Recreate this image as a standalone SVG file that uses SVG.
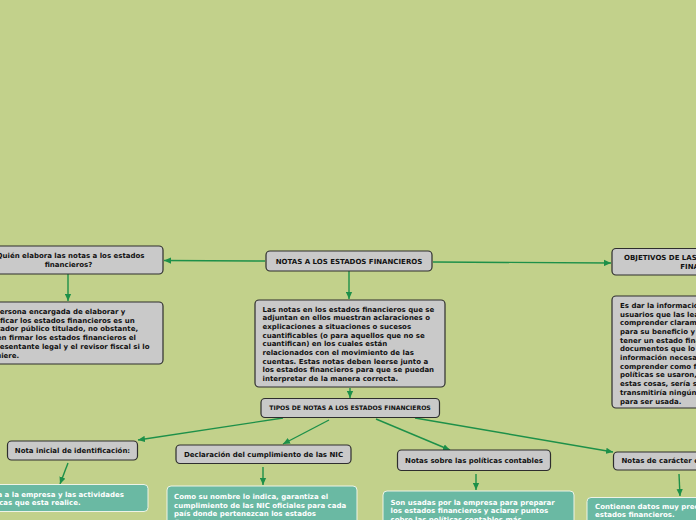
<svg xmlns="http://www.w3.org/2000/svg" width="696" height="520" viewBox="0 0 696 520">
<defs>
<marker id="ah" viewBox="0 0 10 10" refX="10" refY="5" markerWidth="7" markerHeight="7" markerUnits="userSpaceOnUse" orient="auto">
<path d="M0,0.5 L10,5 L0,9.5 z" fill="#1d9049"/>
</marker>
<style>
.g{fill:#c9c9c9;stroke:#2e2e2e;stroke-width:1.2}
.t{fill:#6ab9a3;stroke:#eef3e6;stroke-width:1}
.tx{font-family:"DejaVu Sans",Verdana,sans-serif;font-weight:bold;font-size:7px;fill:#111}
.w{font-family:"DejaVu Sans",Verdana,sans-serif;font-weight:bold;font-size:7px;fill:#ffffff}
.c{text-anchor:middle}
.ln{fill:none;stroke:#1d9049;stroke-width:1.4;marker-end:url(#ah)}
</style>
</defs>
<rect width="696" height="520" fill="#c2d18b"/>
<g id="connectors">
<path class="ln" d="M265,261 L164,260.5"/>
<path class="ln" d="M433,262 L611,263"/>
<path class="ln" d="M349,271 L349,299"/>
<path class="ln" d="M68,274 L68,301"/>
<path class="ln" d="M350,388 L350,398"/>
<path class="ln" d="M283,418 L138,440"/>
<path class="ln" d="M329,420 L283,444"/>
<path class="ln" d="M376,419 L450,450"/>
<path class="ln" d="M415,418 L613,452"/>
<path class="ln" d="M68,463 L60,484"/>
<path class="ln" d="M263,467 L263,485"/>
<path class="ln" d="M476,474 L476,490"/>
<path class="ln" d="M679,474 L680,496"/>
</g>
<g id="main">
<rect class="g" x="266" y="251" width="166" height="20" rx="4"/>
<text class="tx c" x="349" y="263.6">NOTAS A LOS ESTADOS FINANCIEROS</text>
</g>
<g id="quien">
<rect class="g" x="-26" y="246" width="189" height="28" rx="4"/>
<text class="tx c" x="68.5" y="258">¿Quién elabora las notas a los estados</text>
<text class="tx c" x="68.5" y="266.5">financieros?</text>
</g>
<g id="quien-desc">
<rect class="g" x="-26" y="302" width="189" height="62" rx="4"/>
<text class="tx" x="-17" y="314">La persona encargada de elaborar y</text>
<text class="tx" x="-18" y="322.7">certificar los estados financieros es un</text>
<text class="tx" x="-17" y="331.4">contador público titulado, no obstante,</text>
<text class="tx" x="-18" y="340.1">deben firmar los estados financieros el</text>
<text class="tx" x="-17" y="348.8">representante legal y el revisor fiscal si lo</text>
<text class="tx" x="-17" y="357.5">requiere.</text>
</g>
<g id="definicion">
<rect class="g" x="255" y="300" width="190" height="87" rx="4"/>
<text class="tx" x="262.5" y="311.5">Las notas en los estados financieros que se</text>
<text class="tx" x="262.5" y="320.2">adjuntan en ellos muestran aclaraciones o</text>
<text class="tx" x="262.5" y="328.9">explicaciones a situaciones o sucesos</text>
<text class="tx" x="262.5" y="337.6">cuantificables (o para aquellos que no se</text>
<text class="tx" x="262.5" y="346.3">cuantifican) en los cuales están</text>
<text class="tx" x="262.5" y="355">relacionados con el movimiento de las</text>
<text class="tx" x="262.5" y="363.7">cuentas. Estas notas deben leerse junto a</text>
<text class="tx" x="262.5" y="372.4">los estados financieros para que se puedan</text>
<text class="tx" x="262.5" y="381.1">interpretar de la manera correcta.</text>
</g>
<g id="objetivos">
<rect class="g" x="612" y="248.5" width="190" height="26.5" rx="4"/>
<text class="tx c" x="707" y="260">OBJETIVOS DE LAS NOTAS A LOS ESTADOS</text>
<text class="tx c" x="707" y="268.5">FINANCIEROS</text>
</g>
<g id="objetivos-desc">
<rect class="g" x="612" y="296" width="190" height="112" rx="4"/>
<text class="tx" x="620" y="307.8">Es dar la información a los</text>
<text class="tx" x="620" y="316.5">usuarios que las lean para</text>
<text class="tx" x="620" y="325.2">comprender claramente</text>
<text class="tx" x="620" y="333.9">para su beneficio y</text>
<text class="tx" x="620" y="342.6">tener un estado financiero</text>
<text class="tx" x="620" y="351.3">documentos que lo</text>
<text class="tx" x="620" y="360">información necesaria</text>
<text class="tx" x="620" y="368.7">comprender como fueron</text>
<text class="tx" x="620" y="377.4">políticas se usaron,</text>
<text class="tx" x="620" y="386.1">estas cosas, sería su</text>
<text class="tx" x="620" y="394.8">transmitiría ningún</text>
<text class="tx" x="620" y="403.5">para ser usada.</text>
</g>
<g id="tipos">
<rect class="g" x="261" y="398.5" width="178.5" height="19" rx="4"/>
<text class="tx c" x="350" y="409.8" style="font-size:6.1px">TIPOS DE NOTAS A LOS ESTADOS FINANCIEROS</text>
</g>
<g id="nota-inicial">
<rect class="g" x="7.5" y="441" width="130" height="19" rx="4"/>
<text class="tx c" x="72.5" y="453">Nota inicial de identificación:</text>
</g>
<g id="nota-inicial-desc">
<rect class="t" x="-42" y="484.5" width="190" height="27" rx="4"/>
<text class="w" x="-35" y="496.5">Identifica a la empresa y las actividades</text>
<text class="w" x="-34" y="504.8">económicas que esta realice.</text>
</g>
<g id="declaracion">
<rect class="g" x="176" y="445" width="175" height="18.5" rx="4"/>
<text class="tx c" x="263.5" y="456.6">Declaración del cumplimiento de las NIC</text>
</g>
<g id="declaracion-desc">
<rect class="t" x="167" y="486" width="190" height="50" rx="4"/>
<text class="w" x="174" y="499.2">Como su nombre lo indica, garantiza el</text>
<text class="w" x="174" y="507.7">cumplimiento de las NIC oficiales para cada</text>
<text class="w" x="174" y="516.2">país donde pertenezcan los estados</text>
<text class="w" x="174" y="524.7">financieros.</text>
</g>
<g id="politicas">
<rect class="g" x="397.5" y="450" width="153" height="20.5" rx="4"/>
<text class="tx c" x="474" y="463">Notas sobre las políticas contables</text>
</g>
<g id="politicas-desc">
<rect class="t" x="383" y="491" width="191" height="50" rx="4"/>
<text class="w" x="390.5" y="504.5">Son usadas por la empresa para preparar</text>
<text class="w" x="390.5" y="513.2">los estados financieros y aclarar puntos</text>
<text class="w" x="390.5" y="521.9">sobre las políticas contables más</text>
</g>
<g id="caracter">
<rect class="g" x="613.5" y="452" width="150" height="18" rx="4"/>
<text class="tx" x="621.5" y="463">Notas de carácter específico</text>
</g>
<g id="caracter-desc">
<rect class="t" x="587" y="497.5" width="190" height="40" rx="4"/>
<text class="w" x="595" y="508.5">Contienen datos muy precisos de los</text>
<text class="w" x="595" y="517.2">estados financieros.</text>
</g>
</svg>
